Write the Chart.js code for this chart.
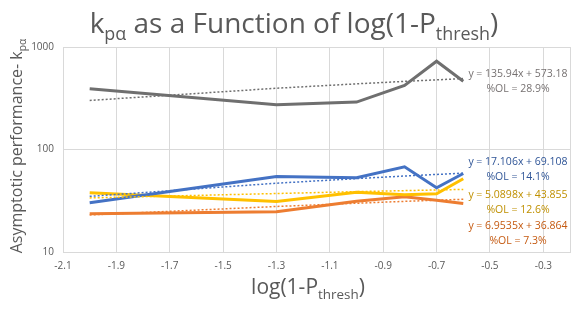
<!DOCTYPE html>
<html>
<head>
<meta charset="utf-8">
<script src="https://cdn.jsdelivr.net/npm/chart.js@4.4.1/dist/chart.umd.min.js"></script>
<style>
  html, body { margin: 0; background: #fff; }
  #wrap { width: 584px; height: 314px; }
</style>
</head>
<body>
<div id="wrap"><canvas id="chart"></canvas></div>
<script>
// log(1-Pthresh) positions of the measurements
const xValues = [-2, -1.3, -1, -0.82, -0.7, -0.6];

const grayData    = [391, 273, 290, 421, 727, 464];
const grayTrend   = [301, 396, 437, 462, 478, 492];
const blueData    = [30.2, 54.5, 53, 67.8, 42.3, 58.3];
const blueTrend   = [34.9, 46.9, 52.0, 55.1, 57.1, 58.8];
const yellowData  = [37.8, 31.1, 38.3, 36.1, 37, 51.8];
const yellowTrend = [33.7, 37.2, 38.8, 39.7, 40.3, 40.8];
const orangeData  = [23.6, 24.7, 31.3, 34.6, 32, 29.7];
const orangeTrend = [23.0, 27.8, 29.9, 31.2, 32.0, 32.7];

const xTicks = [-2.1, -1.9, -1.7, -1.5, -1.3, -1.1, -0.9, -0.7, -0.5, -0.3, -0.2];
const yTicks = [10, 100, 1000];

const trendLabels = [
  ['y = 135.94x + 573.18', '%OL = 28.9%'],
  ['y = 17.106x + 69.108', '%OL = 14.1%'],
  ['y = 5.0898x + 43.855', '%OL = 12.6%'],
  ['y = 6.9535x + 36.864', '%OL = 7.3%']
];

const FONT = "'Open Sans', sans-serif";
const GRAY = '#6f6f6f', BLUE = '#4472C4', YELLOW = '#FFC000', ORANGE = '#ED7D31';
const labelColors = ['#767171', '#2F5597', '#BF9000', '#C55A11'];

const pts = arr => arr.map((v, i) => ({ x: xValues[i], y: v }));

const dataLine = (label, arr, color) => ({
  label, data: pts(arr), borderColor: color, borderWidth: 3,
  pointRadius: 0, fill: false, tension: 0
});
const trendLine = (label, arr, color) => ({
  label, data: pts(arr), borderColor: color, borderWidth: 1.5,
  borderDash: [2, 2], pointRadius: 0, fill: false, tension: 0
});

// draws text with subscript parts, centred on x
function drawRich(ctx, parts, x, y, size, color) {
  let w = 0;
  parts.forEach(p => {
    ctx.font = (p[1] ? size * 0.64 : size) + 'px ' + FONT;
    w += ctx.measureText(p[0]).width;
  });
  let cx = x - w / 2;
  ctx.fillStyle = color;
  ctx.textAlign = 'left';
  ctx.textBaseline = 'alphabetic';
  parts.forEach(p => {
    ctx.font = (p[1] ? size * 0.64 : size) + 'px ' + FONT;
    ctx.fillText(p[0], cx, p[1] ? y + size * 0.24 : y);
    cx += ctx.measureText(p[0]).width;
  });
}

const textPlugin = {
  id: 'texts',
  afterDraw(chart) {
    const ctx = chart.ctx;
    const a = chart.chartArea;
    ctx.save();
    // title
    drawRich(ctx, [['k', 0], ['pα', 1], [' as a Function of log(1-P', 0], ['thresh', 1], [')', 0]],
      294, 33, 28, '#595959');
    // x axis title
    drawRich(ctx, [['log(1-P', 0], ['thresh', 1], [')', 0]], 308, 294, 21, '#595959');
    // y axis title
    ctx.translate(22, 146);
    ctx.rotate(-Math.PI / 2);
    drawRich(ctx, [['Asymptotic performance- k', 0], ['pα', 1]], 0, 0, 16, '#595959');
    ctx.restore();

    // trendline equations
    ctx.save();
    ctx.font = '10.5px ' + FONT;
    ctx.textAlign = 'center';
    ctx.textBaseline = 'middle';
    const tops = [a.top + 27, a.top + 115, a.top + 148, a.top + 179];
    trendLabels.forEach((lines, i) => {
      ctx.fillStyle = labelColors[i];
      ctx.fillText(lines[0], a.right - 52, tops[i]);
      ctx.fillText(lines[1], a.right - 52, tops[i] + 15);
    });
    ctx.restore();
  }
};

new Chart(document.getElementById('chart'), {
  type: 'line',
  data: {
    datasets: [
      trendLine('gray trend', grayTrend, GRAY),
      trendLine('blue trend', blueTrend, BLUE),
      trendLine('yellow trend', yellowTrend, YELLOW),
      trendLine('orange trend', orangeTrend, ORANGE),
      dataLine('gray', grayData, GRAY),
      dataLine('blue', blueData, BLUE),
      dataLine('yellow', yellowData, YELLOW),
      dataLine('orange', orangeData, ORANGE)
    ]
  },
  options: {
    responsive: true,
    maintainAspectRatio: false,
    animation: false,
    layout: { padding: { top: 47, right: 14, left: 0, bottom: 0 } },
    plugins: {
      legend: { display: false },
      tooltip: { enabled: false }
    },
    scales: {
      x: {
        type: 'linear',
        min: -2.1,
        max: -0.2,
        afterBuildTicks: s => { s.ticks = xTicks.map(v => ({ value: v })); },
        afterFit: s => { s.height = 62; },
        grid: { color: '#d9d9d9', drawTicks: false },
        border: { color: '#d9d9d9' },
        ticks: {
          color: '#595959', font: { family: FONT, size: 10 }, padding: 8,
          maxRotation: 0, autoSkip: false,
          callback: v => (Math.abs(v + 0.2) < 1e-9 ? '' : v.toFixed(1))
        }
      },
      y: {
        type: 'logarithmic',
        min: 10,
        max: 1000,
        afterBuildTicks: s => { s.ticks = yTicks.map(v => ({ value: v })); },
        afterFit: s => { s.width = 63; },
        grid: { color: '#d9d9d9', drawTicks: false },
        border: { color: '#d9d9d9' },
        ticks: {
          color: '#595959', font: { family: FONT, size: 10 }, padding: 9,
          callback: v => String(v)
        }
      }
    }
  },
  plugins: [textPlugin]
});
</script>
</body>
</html>
